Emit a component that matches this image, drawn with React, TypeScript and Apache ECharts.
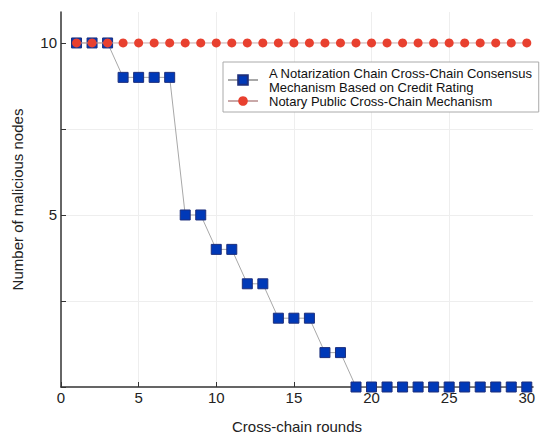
import React, { useEffect, useRef } from "react";
import * as echarts from "echarts";

const rounds: number[] = Array.from({ length: 30 }, (_, i) => i + 1);
const creditRatingValues: number[] = [
  10, 10, 10, 9, 9, 9, 9, 5, 5, 4, 4, 3, 3, 2, 2, 2, 1, 1, 0, 0, 0, 0, 0, 0, 0, 0, 0, 0, 0, 0,
];
const notaryValues: number[] = [
  10, 10, 10, 10, 10, 10, 10, 10, 10, 10, 10, 10, 10, 10, 10, 10, 10, 10, 10, 10, 10, 10, 10, 10, 10, 10, 10, 10, 10, 10,
];
const seriesNames: string[] = [
  "A Notarization Chain Cross-Chain Consensus\nMechanism Based on Credit Rating",
  "Notary Public Cross-Chain Mechanism",
];
const xTickValues: number[] = [0, 5, 10, 15, 20, 25, 30];
const yTickValues: number[] = [0, 2.5, 5, 7.5, 10];
const yLabelValues: number[] = [5, 10];

const FONT = "'Liberation Sans', Arial, sans-serif";

export default function App() {
  const ref = useRef<HTMLDivElement>(null);
  useEffect(() => {
    if (!ref.current) return;
    const chart = echarts.init(ref.current, undefined, { renderer: "svg" });
    const axisLine = { show: true, lineStyle: { color: "#333", width: 1.5 } };
    chart.setOption({
      animation: false,
      backgroundColor: "#fff",
      textStyle: { fontFamily: FONT },
      grid: { left: 61, right: 17, top: 12, bottom: 58, containLabel: false },
      legend: {
        orient: "vertical",
        left: 223,
        top: 62,
        itemGap: 0,
        itemWidth: 30,
        itemHeight: 12,
        padding: [4, 6, 4, 4],
        backgroundColor: "#fff",
        borderColor: "#aaa",
        borderWidth: 1,
        borderRadius: 0,
        textStyle: {
          fontFamily: FONT,
          fontSize: 13,
          lineHeight: 14,
          color: "#111",
          padding: [0, 0, 0, 6],
        },
        data: seriesNames,
      },
      xAxis: {
        type: "value",
        min: 0,
        max: 30.4,
        interval: 5,
        name: "Cross-chain rounds",
        nameLocation: "middle",
        nameGap: 32,
        nameTextStyle: { fontFamily: FONT, fontSize: 15, color: "#222" },
        axisLine,
        axisTick: { show: true, inside: true, length: 5, lineStyle: { color: "#333" }, customValues: xTickValues },
        axisLabel: { fontFamily: FONT, fontSize: 15, color: "#222", margin: 3, customValues: xTickValues },
        splitLine: { show: true, showMaxLine: false, showMinLine: false, lineStyle: { color: "#eeeeee", width: 1 } },
      },
      yAxis: {
        type: "value",
        min: 0,
        max: 10.9,
        interval: 2.5,
        name: "Number of malicious nodes",
        nameLocation: "middle",
        nameGap: 36,
        nameTextStyle: { fontFamily: FONT, fontSize: 15, color: "#222" },
        axisLine,
        axisTick: { show: true, inside: true, length: 5, lineStyle: { color: "#333" }, customValues: yTickValues },
        axisLabel: { fontFamily: FONT, fontSize: 15, color: "#222", margin: 4, customValues: yLabelValues },
        splitLine: { show: true, showMaxLine: false, showMinLine: false, lineStyle: { color: "#eeeeee", width: 1 } },
      },
      series: [
        {
          name: seriesNames[0],
          type: "line",
          data: rounds.map((r, i) => [r, creditRatingValues[i]]),
          symbol: "rect",
          symbolSize: 10,
          lineStyle: { color: "#a8a8a8", width: 1 },
          itemStyle: { color: "#0039b8", borderColor: "#1d2f7c", borderWidth: 1 },
          z: 2,
        },
        {
          name: seriesNames[1],
          type: "line",
          data: rounds.map((r, i) => [r, notaryValues[i]]),
          symbol: "circle",
          symbolSize: 9,
          lineStyle: { color: "#c9a8a8", width: 1 },
          itemStyle: { color: "#e8402f" },
          z: 3,
        },
      ],
    });
    return () => chart.dispose();
  }, []);
  return (
    <div
      ref={ref}
      style={{ position: "absolute", left: 0, top: 0, width: 550, height: 445, background: "#fff" }}
    />
  );
}
